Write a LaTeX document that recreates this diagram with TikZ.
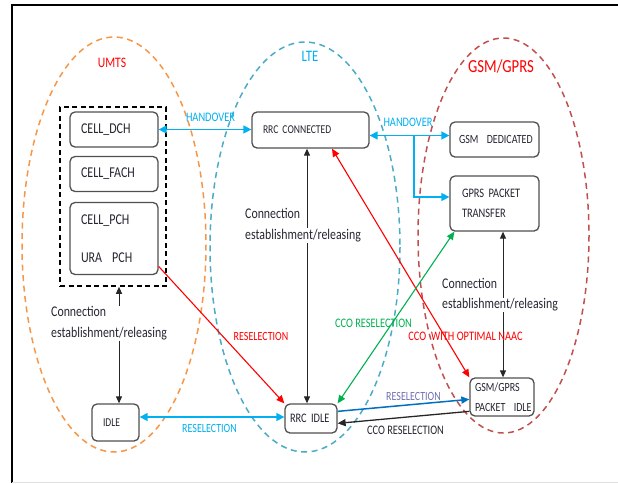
\documentclass[tikz,border=0pt]{standalone}
\usepackage{fontspec}
\setmainfont{Carlito}[FakeStretch=0.8]
\usetikzlibrary{arrows.meta,calc}
\definecolor{umtsorange}{HTML}{F79646}
\definecolor{lteblue}{HTML}{4BACC6}
\definecolor{gsmred}{HTML}{C0504D}
\definecolor{hocyan}{HTML}{00B0F0}
\definecolor{selred}{HTML}{FF0000}
\definecolor{ccogreen}{HTML}{00B050}
\definecolor{selblue}{HTML}{0070C0}
\definecolor{lavender}{HTML}{7070B0}
\definecolor{boxline}{HTML}{505050}
\definecolor{ink}{HTML}{262633}

\begin{document}
\begin{tikzpicture}[x=1pt,y=-1pt,
  state/.style={draw=boxline, line width=1.3pt, rounded corners=5pt, fill=white,
    text=ink, align=left, inner ysep=0pt},
  zone/.style={dash pattern=on 6pt off 4.5pt, line width=1.5pt},
  lbl/.style={inner sep=0pt, font=\fontsize{13}{15}\selectfont},
  conn/.style={inner sep=0pt, text=ink, align=left, font=\fontsize{14.8}{21}\selectfont},
  hoarrow/.style={draw=hocyan, line width=1.5pt, {Triangle[length=8pt,width=8pt]}-{Triangle[length=8pt,width=8pt]}},
  hoone/.style={draw=hocyan, line width=1.5pt, -{Triangle[length=8pt,width=8pt]}},
  blkarrow/.style={draw=black!85, line width=1pt, {Triangle[length=7pt,width=6pt]}-{Triangle[length=7pt,width=6pt]}},
  thinarrow/.style={line width=1.1pt, -{Triangle[length=8pt,width=7pt]}},
  thinboth/.style={line width=1.1pt, {Triangle[length=8pt,width=7pt]}-{Triangle[length=8pt,width=7pt]}}
]
\useasboundingbox (0,0) rectangle (618,483);

% technology zones
\draw[zone, umtsorange] (114,244.5) ellipse [x radius=92, y radius=207.5];
\draw[zone, lteblue] (305,247) ellipse [x radius=95, y radius=205];
\draw[zone, gsmred] (503.5,235.5) ellipse [x radius=85.5, y radius=197.5];

% frame
\draw[line width=2.5pt] (12,483) -- (12,5) -- (618,5);
\draw[black!12, line width=1pt] (12,482) -- (618,482);

% zone titles
\node[inner sep=0pt, text=selred, font=\fontsize{14.5}{16}\selectfont] (umtst) at (112,63) {UMTS};
\node[inner sep=0pt, text=hocyan, font=\fontsize{16}{18}\selectfont] (ltet) at (310,56) {LTE};
\node[inner sep=0pt, text=selred, font=\fontsize{18.4}{20}\selectfont] (gsmt) at (501,66.5) {GSM/GPRS};

% UMTS connected-mode group
\node[draw, dash pattern=on 5pt off 3.5pt, line width=1.6pt, minimum width=106pt,
  minimum height=179pt, inner sep=0pt] (umtsbox) at (113,196.5) {};
\node[state, minimum width=88pt, minimum height=35pt, inner xsep=11pt, text width=66pt,
  font=\fontsize{15}{18}\selectfont] (dch) at (114,129.5) {CELL\_DCH};
\node[state, minimum width=88pt, minimum height=35pt, inner xsep=11pt, text width=66pt,
  font=\fontsize{15}{18}\selectfont] (fach) at (114,174) {CELL\_FACH};
\node[state, minimum width=88pt, minimum height=72pt, inner xsep=11pt, text width=66pt,
  font=\fontsize{15}{18}\selectfont] (pch) at (114,238.5) {CELL\_PCH\\[20pt]URA~~PCH};
\node[state, minimum width=47pt, minimum height=37pt, inner xsep=11pt, text width=25pt,
  font=\fontsize{12}{14}\selectfont] (idle) at (115.5,422.5) {IDLE};

% LTE states
\node[state, minimum width=117pt, minimum height=36pt, inner xsep=11pt, text width=95pt,
  font=\fontsize{12}{14}\selectfont] (rrcc) at (310.5,130) {RRC CONNECTED};
\node[state, minimum width=52pt, minimum height=29pt, inner xsep=5pt, text width=42pt,
  font=\fontsize{13}{15}\selectfont] (rrci) at (311,418.5) {RRC IDLE};

% GSM/GPRS states
\node[state, minimum width=89pt, minimum height=35pt, inner xsep=9pt, text width=71pt,
  font=\fontsize{12.5}{15}\selectfont] (gsmd) at (494.5,139.5) {\mbox{GSM~~DEDICATED}};
\node[state, minimum width=89pt, minimum height=55pt, inner xsep=12pt, text width=65pt,
  font=\fontsize{13}{20}\selectfont] (gprs) at (494.5,203.5) {GPRS PACKET\\TRANSFER};
\node[state, minimum width=64pt, minimum height=38pt, inner xsep=5pt, text width=54pt,
  font=\fontsize{12.5}{20}\selectfont] (pidle) at (502,397) {GSM/GPRS\\\mbox{PACKET~~IDLE}};

% helper points for straight connectors
\coordinate (xl) at (119,0);
\coordinate (xm) at (307,0);
\coordinate (xr) at (503,0);
\coordinate (hb) at (414,135.5);
\coordinate (hc) at (414,197);
\coordinate (hd) at (200,417);

% connection establishment / release
\draw[blkarrow] (umtsbox.south -| xl) -- (idle.north -| xl);
\draw[blkarrow] (rrcc.south -| xm) -- (rrci.north -| xm);
\draw[blkarrow] (gprs.south -| xr) -- (pidle.north -| xr);

% handovers
\draw[hoarrow] (dch.east) -- (dch.east -| rrcc.west);
\draw[hoarrow] (rrcc.east |- hb) -- (gsmd.west |- hb);
\draw[hoone] (hb) -- (hc) -- (hc -| gprs.west);

% idle-mode reselections
\draw[hoarrow] (idle.east |- hd) -- (rrci.west |- hd);
\draw[thinarrow, selred] (pch.-32) -- (rrci.north west);
\draw[thinboth, selred] (pidle.north west) -- ($(rrcc.south)+(21.5,0)$);
\draw[thinboth, ccogreen] ($(gprs.south west)+(5,0)$) -- (rrci.north east);
\draw[line width=1.5pt, selblue, -{Triangle[length=8pt,width=7pt]}]
  ($(rrci.north east)+(0,8)$) -- ($(pidle.north west)+(0,22)$);
\draw[line width=1.3pt, black!85, -{Triangle[length=8pt,width=7pt]}]
  ($(pidle.north west)+(0,34)$) -- ($(rrci.north east)+(0,20)$);

% connector labels
\node[lbl, text=hocyan] (ho1) at (210.5,117) {HANDOVER};
\node[lbl, text=hocyan] (ho2) at (408,122.5) {HANDOVER};
\node[lbl, text=selred, font=\fontsize{12.5}{15}\selectfont] (rs1) at (261,336) {RESELECTION};
\node[lbl, text=selred] (naac) at (465.5,336) {CCO~~WITH OPTIMAL NAAC};
\node[lbl, text=ccogreen] (cco1) at (373.5,323) {CCO RESELECTION};
\node[lbl, text=hocyan, font=\fontsize{12.5}{15}\selectfont] (rs2) at (209.5,428) {RESELECTION};
\node[lbl, text=lavender, font=\fontsize{12.5}{15}\selectfont] (rs3) at (413.5,396) {RESELECTION};
\node[lbl, text=ink] (cco2) at (405.5,430) {CCO RESELECTION};

\node[conn, fill=white, inner sep=1pt, anchor=west] (umtscon) at (50,323.5)
  {Connection\\establishment/releasing};
\node[conn, anchor=west] (ltecon1) at (245,213.5) {Connection};
\node[conn, fill=white, inner sep=1pt, anchor=west] (ltecon2) at (244,235.5) {establishment/releasing};
\node[conn, anchor=west] (gsmcon1) at (442,283.5) {Connection};
\node[conn, fill=white, inner sep=1pt, anchor=west] (gsmcon2) at (441,305) {establishment/releasing};
\end{tikzpicture}
\end{document}
